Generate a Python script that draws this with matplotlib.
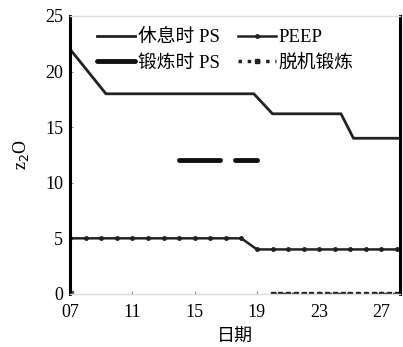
import numpy as np
import matplotlib
matplotlib.use("Agg")
import matplotlib.pyplot as plt

plt.rcParams["font.family"] = ["Liberation Serif", "Noto Sans CJK SC"]

# ── data ─────────────────────────────────────────────────────────────────────
rest_days = [7, 9.3, 18.8, 20, 24.4, 25.2, 28.2]
rest_ps   = [22, 18, 18, 16.2, 16.2, 14, 14]

ex_days = [14, 15, 16, 16.6, np.nan, 17.6, 18.3, 19]
ex_ps   = [12, 12, 12, 12, np.nan, 12, 12, 12]

peep_days = list(range(7, 19)) + list(range(19, 29))
peep_vals = [5] * 12 + [4] * 10

wean_days = [7] + list(np.arange(20, 28.5, 0.5))
wean_vals = [0] * len(wean_days)

xticks = [7, 11, 15, 19, 23, 27]
xtick_labels = ["07", "11", "15", "19", "23", "27"]

# ── plot ─────────────────────────────────────────────────────────────────────
fig = plt.figure(figsize=(4.03, 3.47), dpi=100)
ax = fig.add_axes([0.174, 0.153, 0.819, 0.801])

h_rest, = ax.plot(rest_days, rest_ps, "-", color="#222222", lw=2)
h_peep, = ax.plot(peep_days, peep_vals, "-", color="#222222", lw=1.8,
                  marker="o", markersize=2.5)
h_ex, = ax.plot(ex_days, ex_ps, "-", color="#111111", lw=3.5,
                solid_capstyle="round")
h_wean, = ax.plot(wean_days[1:], wean_vals[1:], ":", color="#222222", lw=2.5,
                  marker="s", markersize=2.5)
ax.plot(wean_days[:1], wean_vals[:1], "s", color="#555555", markersize=4)

ax.set_xlim(7, 28.2)
ax.set_ylim(0, 25)
ax.set_xticks(xticks)
ax.set_xticklabels(xtick_labels)
ax.set_yticks([0, 5, 10, 15, 20, 25])
ax.tick_params(labelsize=13, length=2, direction="in", color="#888888")
ax.tick_params(axis="x", pad=7)
ax.tick_params(axis="y", pad=5)
ax.set_xlabel("日期", fontsize=13, labelpad=6)
ax.set_ylabel("z$_2$O", fontsize=13, labelpad=10)

for side in ("left", "right"):
    ax.spines[side].set_linewidth(2.2)
    ax.spines[side].set_color("black")
for side in ("top", "bottom"):
    ax.spines[side].set_color("#dddddd")
    ax.spines[side].set_linewidth(1)

# ncol=2 fills column-first
ax.legend([h_rest, h_ex, h_peep, h_wean],
          ["休息时 PS", "锻炼时 PS", "PEEP", "脱机锻炼"],
          loc="upper left", ncol=2, frameon=False, fontsize=13.5,
          handlelength=2.0, handletextpad=0.15, columnspacing=1.0,
          labelspacing=0.45, borderaxespad=0.0, bbox_to_anchor=(0.06, 0.98))

fig.savefig("out.png", dpi=100)
